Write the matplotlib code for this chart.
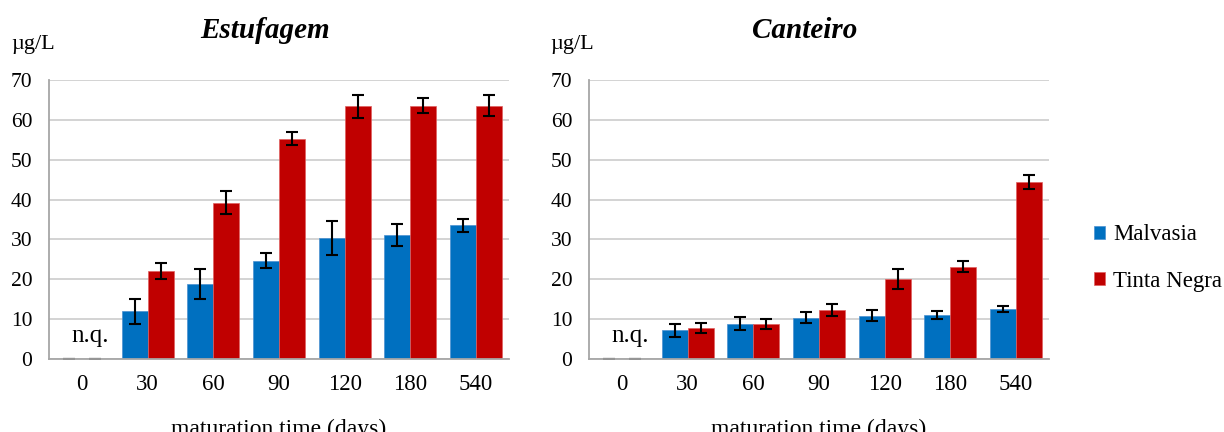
import matplotlib
matplotlib.use("Agg")
import matplotlib.pyplot as plt
import numpy as np

# data
days = ["0", "30", "60", "90", "120", "180", "540"]
series = ["Malvasia", "Tinta Negra"]

estufagem_malvasia = [0, 12.0, 18.8, 24.7, 30.4, 31.1, 33.5]
estufagem_malvasia_err = [0, 3.1, 3.85, 1.9, 4.2, 2.7, 1.6]
estufagem_tinta = [0, 22.0, 39.2, 55.3, 63.4, 63.6, 63.6]
estufagem_tinta_err = [0, 2.05, 2.9, 1.7, 2.9, 2.0, 2.75]

canteiro_malvasia = [0, 7.2, 8.9, 10.4, 10.9, 11.1, 12.5]
canteiro_malvasia_err = [0, 1.6, 1.6, 1.35, 1.4, 1.0, 0.7]
canteiro_tinta = [0, 7.8, 8.8, 12.3, 20.1, 23.2, 44.5]
canteiro_tinta_err = [0, 1.3, 1.2, 1.4, 2.6, 1.35, 1.75]

blue = "#0070C0"
red = "#C00000"
plt.rcParams['font.family'] = ['Liberation Serif', 'DejaVu Serif']

W, H = 1224, 432
fig = plt.figure(figsize=(W / 100, H / 100), dpi=100)


def px_axes(x0, x1, y0, y1):
    return fig.add_axes([x0 / W, 1 - y1 / H, (x1 - x0) / W, (y1 - y0) / H])


def draw_panel(ax, mal, mal_err, tin, tin_err):
    x = np.arange(len(days))
    w = 0.395
    err_kw = dict(ecolor="black", elinewidth=1.5, capsize=4, capthick=1.5)
    ax.bar(x - w / 2, mal, w, yerr=[0 if v == 0 else e for v, e in zip(mal, mal_err)],
           color=blue, edgecolor="#4A90D0", linewidth=0.5, error_kw=err_kw,
           label=series[0], zorder=2)
    ax.bar(x + w / 2, tin, w, yerr=[0 if v == 0 else e for v, e in zip(tin, tin_err)],
           color=red, edgecolor="#E06060", linewidth=0.5, error_kw=err_kw,
           label=series[1], zorder=2)
    ax.set_xlim(-0.5, len(days) - 0.5)
    ax.set_ylim(0, 70)
    ax.set_yticks(range(0, 71, 10))
    ax.set_xticks(x)
    ax.set_xticklabels(days)
    ax.yaxis.grid(True, color="#D0D0D0", linewidth=1.3, zorder=0)
    ax.set_axisbelow(True)
    for s in ["top", "right"]:
        ax.spines[s].set_visible(False)
    for s in ["left", "bottom"]:
        ax.spines[s].set_color("#A6A6A6")
        ax.spines[s].set_linewidth(1.3)
    ax.tick_params(axis="x", length=0, pad=11, labelsize=16.5)
    ax.tick_params(axis="y", length=0, pad=12, labelsize=15.5)
    ax.text(0.12, 5.8, "n.q.", ha="center", va="center", fontsize=18)


ax1 = px_axes(49, 509, 80, 359)
draw_panel(ax1, estufagem_malvasia, estufagem_malvasia_err,
           estufagem_tinta, estufagem_tinta_err)
ax2 = px_axes(589, 1049, 80, 359)
draw_panel(ax2, canteiro_malvasia, canteiro_malvasia_err,
           canteiro_tinta, canteiro_tinta_err)

# titles, units and axis labels
fig.text(265 / W, 1 - 31 / H, "Estufagem", ha="center", va="center",
         fontsize=21, fontweight="bold", fontstyle="italic")
fig.text(805 / W, 1 - 31 / H, "Canteiro", ha="center", va="center",
         fontsize=21, fontweight="bold", fontstyle="italic")
fig.text(11 / W, 1 - 44 / H, "µg/L", ha="left", va="center", fontsize=16)
fig.text(550 / W, 1 - 44 / H, "µg/L", ha="left", va="center", fontsize=16)
fig.text(279 / W, 1 - 429 / H, "maturation time (days)", ha="center",
         va="center", fontsize=17)
fig.text(819 / W, 1 - 429 / H, "maturation time (days)", ha="center",
         va="center", fontsize=17)

handles, labels = ax1.get_legend_handles_labels()
fig.legend(handles, labels, loc="center left",
           bbox_to_anchor=(1073 / W, 1 - 258 / H), frameon=False,
           fontsize=16.5, handlelength=0.5, handleheight=0.5,
           handletextpad=0.35, labelspacing=1.1)

fig.savefig("out.png", dpi=100)
